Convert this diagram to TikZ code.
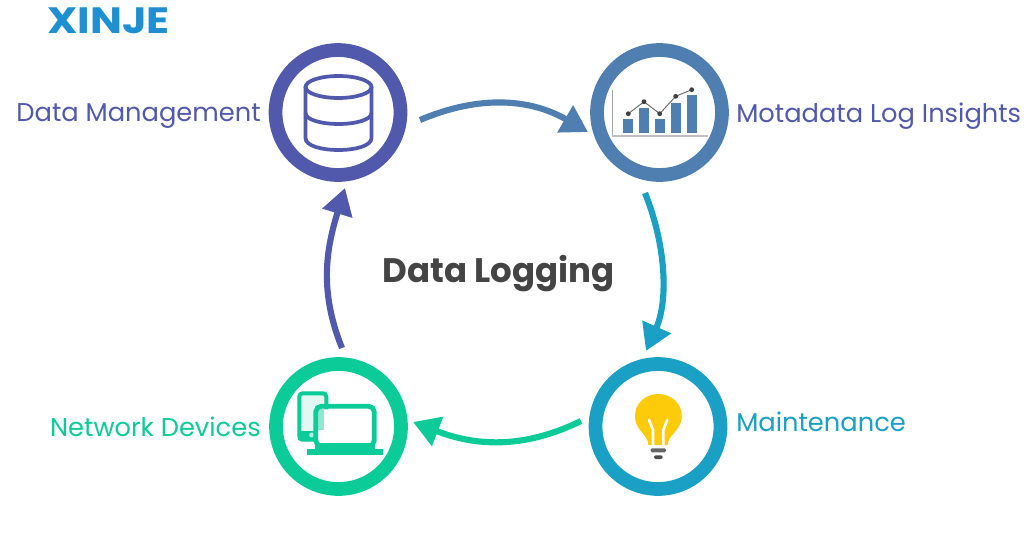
\documentclass[tikz,border=0pt]{standalone}
\usepackage{fontspec}
\setmainfont{Poppins}
\usetikzlibrary{arrows.meta}
\definecolor{cdb}{HTML}{5159AC}
\definecolor{cins}{HTML}{4F7EB0}
\definecolor{cmnt}{HTML}{19A0C4}
\definecolor{cnet}{HTML}{0BCB98}
\definecolor{clogo}{HTML}{1E90D2}
\definecolor{cttl}{HTML}{444444}
\definecolor{cbulb}{HTML}{FDCB0A}
\tikzset{x=0.75pt,y=-0.75pt,
 ring/.style={circle,draw=#1,line width=10.3pt,minimum size=93.7pt,inner sep=0pt},
 lab/.style={text=#1,font=\fontsize{19.3}{21}\selectfont,inner sep=0pt},
 conn/.style={draw=#1,line width=4.6pt,-{Triangle[length=19.8pt,width=22.5pt,fill=#1]}},
 dbline/.style={draw=cdb,line width=2.8pt,line cap=round},
 bar/.style={fill=cins},
 axis/.style={draw=#1,line cap=butt},
 dotpt/.style={circle,fill=#1,inner sep=0pt,minimum size=3.6pt},
}
\begin{document}
\begin{tikzpicture}
\useasboundingbox (0,0) rectangle (1030,539);
\fill[white] (0,0) rectangle (1030,539);
\node[ring=cdb] (db) at (338,112.5) {};
\node[ring=cins] (ins) at (659.5,112.5) {};
\node[ring=cmnt] (mnt) at (658,426.5) {};
\node[ring=cnet] (net) at (338.5,426.5) {};
\node[lab=cdb,anchor=east] (ldb) at (261,116) {Data Management};
\node[lab=cdb,anchor=west] (lins) at (736,116) {Motadata Log Insights};
\node[lab=cmnt,anchor=west] (lmnt) at (736,422) {Maintenance};
\node[lab=cnet,anchor=east] (lnet) at (261,427) {Network Devices};
\node[text=cttl,font=\fontsize{25.5}{28}\selectfont\bfseries,inner sep=0pt] (ttl) at (498.5,274) {Data Logging};
\node[text=clogo,font=\fontsize{27.5}{30}\selectfont\bfseries,inner sep=0pt,anchor=west] (logo) at (47,21) {\scalebox{1.16}[1]{XINJE}};
% connectors
\coordinate (a1) at (420,120); \coordinate (a2) at (588,132);
\coordinate (b1) at (645,193); \coordinate (b2) at (646,351);
\coordinate (c1) at (581,421); \coordinate (c2) at (413,422);
\coordinate (d1) at (342,348); \coordinate (d2) at (345,188);
\draw[conn=cins] (a1) to[out=23,in=150] (a2);
\draw[conn=cmnt] (b1) to[out=-68,in=66,looseness=0.9] (b2);
\draw[conn=cnet] (c1) to[out=-154,in=-21] (c2);
\draw[conn=cdb] (d1) to[out=112,in=-107] (d2);
% database icon
\draw[dbline] (338.5,87) ellipse[x radius=33,y radius=11];
\draw[dbline] (305.5,87) -- (305.5,138) .. controls (305.5,146) and (322,150) .. (338.5,150) .. controls (355,150) and (371.5,146) .. (371.5,138) -- (371.5,87);
\draw[dbline] (305.5,113) .. controls (305.5,120) and (322,124) .. (338.5,124) .. controls (355,124) and (371.5,120) .. (371.5,113);
% chart icon
\fill[bar] (623,119) rectangle (633.3,132.7);
\fill[bar] (639,107.7) rectangle (649.3,132.7);
\fill[bar] (655,119) rectangle (665,132.7);
\fill[bar] (670.7,103) rectangle (681,132.7);
\fill[bar] (686.7,95.3) rectangle (696.7,132.7);
\draw[axis=gray!70,line width=0.7pt] (612.5,90) -- (612.5,136);
\draw[axis=gray!50,line width=1.1pt] (612,136) -- (708,136);
\draw[gray!80!black,line width=0.7pt] (628.3,113.7) -- (644,101.7) -- (659.7,113.7) -- (675.7,96.3) -- (691.7,89.7);
\foreach \p in {(628.3,113.7),(644,101.7),(659.7,113.7),(675.7,96.3),(691.7,89.7)}
  \node[dotpt=black!75] at \p {};
% devices icon
\fill[cnet!12,rounded corners=3pt] (297.3,391.3) rectangle (328.3,441.7);
\draw[cnet,line width=3pt,rounded corners=2.5pt] (299.3,393.3) rectangle (326.3,439.7);
\fill[cnet] (298,431) rectangle (327.5,440);
\fill[white!70!cnet] (311.7,435) circle[radius=2.5];
\fill[white,rounded corners=2pt] (318,409.3) rectangle (371.7,442.7);
\fill[cnet!45] (318,409.3) rectangle (324,430);
\draw[cnet,line width=3.6pt,rounded corners=4pt] (315.8,406.3) -- (315.8,446) -- (374.2,446) -- (374.2,406.3) -- cycle;
\fill[cnet] (315,442.7) rectangle (375,449);
\fill[cnet] (306.7,448.7) rectangle (383.3,454.7);
% bulb icon
\fill[cbulb] (648.5,445) .. controls (648,434) and (635,431) .. (635,416)
  .. controls (635,403) and (645.5,394) .. (658.3,394)
  .. controls (671,394) and (681.7,403) .. (681.7,416)
  .. controls (681.7,431) and (668,434) .. (667.5,445) -- cycle;
\draw[white,line width=2pt,line cap=round] (649,420) -- (653,430) -- (653,445);
\draw[white,line width=2pt,line cap=round] (667.3,420) -- (663.3,430) -- (663.3,445);
\fill[gray!80!black,rounded corners=1pt] (650.7,448.3) rectangle (666,452.3);
\fill[black!70,rounded corners=1.5pt] (654,455.3) rectangle (662.7,459);
\end{tikzpicture}
\end{document}
